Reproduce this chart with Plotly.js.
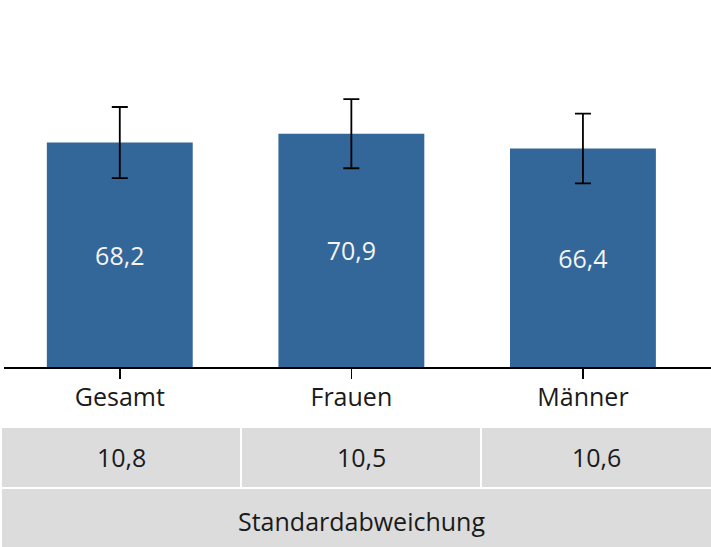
<!DOCTYPE html>
<html>
<head>
<meta charset="utf-8">
<script src="https://cdn.plot.ly/plotly-3.0.1.min.js"></script>
<style>html,body{margin:0;padding:0;background:#fff;}#chart{width:711px;height:547px;}</style>
</head>
<body>
<div id="chart"></div>
<script>
const categories = ["Gesamt", "Frauen", "Männer"];
const meanValues = [68.2, 70.9, 66.4];
const sdValues = [10.8, 10.5, 10.6];
const sdLabel = "Standardabweichung";

const W = 711, H = 547;
const mL = 4, mR = 0, mT = 5, mB = 180;
const plotW = W - mL - mR, plotH = H - mT - mB;
const px = x => (x - mL) / plotW;
const py = y => (H - mB - y) / plotH;

const font = "'Open Sans', sans-serif";
const fs = 25;
const cellFill = "#dcdcdc";
const textColor = "#1a1a1a";

const shapes = [];
const annotations = [];
// Row 1: SD values
const colEdges = [[2, 240], [242, 480], [482, 711]];
colEdges.forEach((c, i) => {
  shapes.push({type: "rect", xref: "paper", yref: "paper", x0: px(c[0]), x1: px(c[1]), y0: py(487), y1: py(428), fillcolor: cellFill, line: {width: 0}, layer: "below"});
  annotations.push({xref: "paper", yref: "paper", x: px((c[0] + c[1]) / 2), y: py(457), text: sdValues[i].toFixed(1).replace(".", ","), showarrow: false, font: {family: font, size: fs, color: textColor}, xanchor: "center", yanchor: "middle"});
});
// Row 2: label
shapes.push({type: "rect", xref: "paper", yref: "paper", x0: px(2), x1: px(711), y0: py(547), y1: py(489), fillcolor: cellFill, line: {width: 0}, layer: "below"});
annotations.push({xref: "paper", yref: "paper", x: px(361), y: py(521), text: sdLabel, showarrow: false, font: {family: font, size: fs, color: textColor}, xanchor: "center", yanchor: "middle"});

const trace = {
  type: "bar",
  x: categories,
  y: meanValues,
  width: 0.63,
  marker: {color: "#336699"},
  text: meanValues.map(v => v.toFixed(1).replace(".", ",")),
  texttemplate: "%{text}",
  textposition: "inside",
  insidetextanchor: "middle",
  textangle: 0,
  insidetextfont: {family: font, size: fs, color: "#f4f4f4"},
  error_y: {type: "data", array: sdValues, visible: true, color: "#000", thickness: 1.8, width: 8},
  hoverinfo: "skip"
};

const layout = {
  width: W, height: H,
  margin: {l: mL, r: mR, t: mT, b: mB, pad: 0},
  paper_bgcolor: "#fff", plot_bgcolor: "#fff",
  showlegend: false,
  separators: ", ",
  xaxis: {
    type: "category",
    range: [-0.5, 2.553],
    showline: true, linecolor: "#000", linewidth: 1.5,
    ticks: "outside", ticklen: 10, tickcolor: "#000", tickwidth: 1.5,
    ticklabelstandoff: -3,
    tickfont: {family: font, size: fs, color: textColor},
    showgrid: false, zeroline: false, fixedrange: true
  },
  yaxis: {
    range: [0, 110],
    visible: false, showgrid: false, zeroline: false, fixedrange: true
  },
  shapes: shapes,
  annotations: annotations
};

Plotly.newPlot("chart", [trace], layout, {displayModeBar: false, staticPlot: true});
</script>
</body>
</html>
